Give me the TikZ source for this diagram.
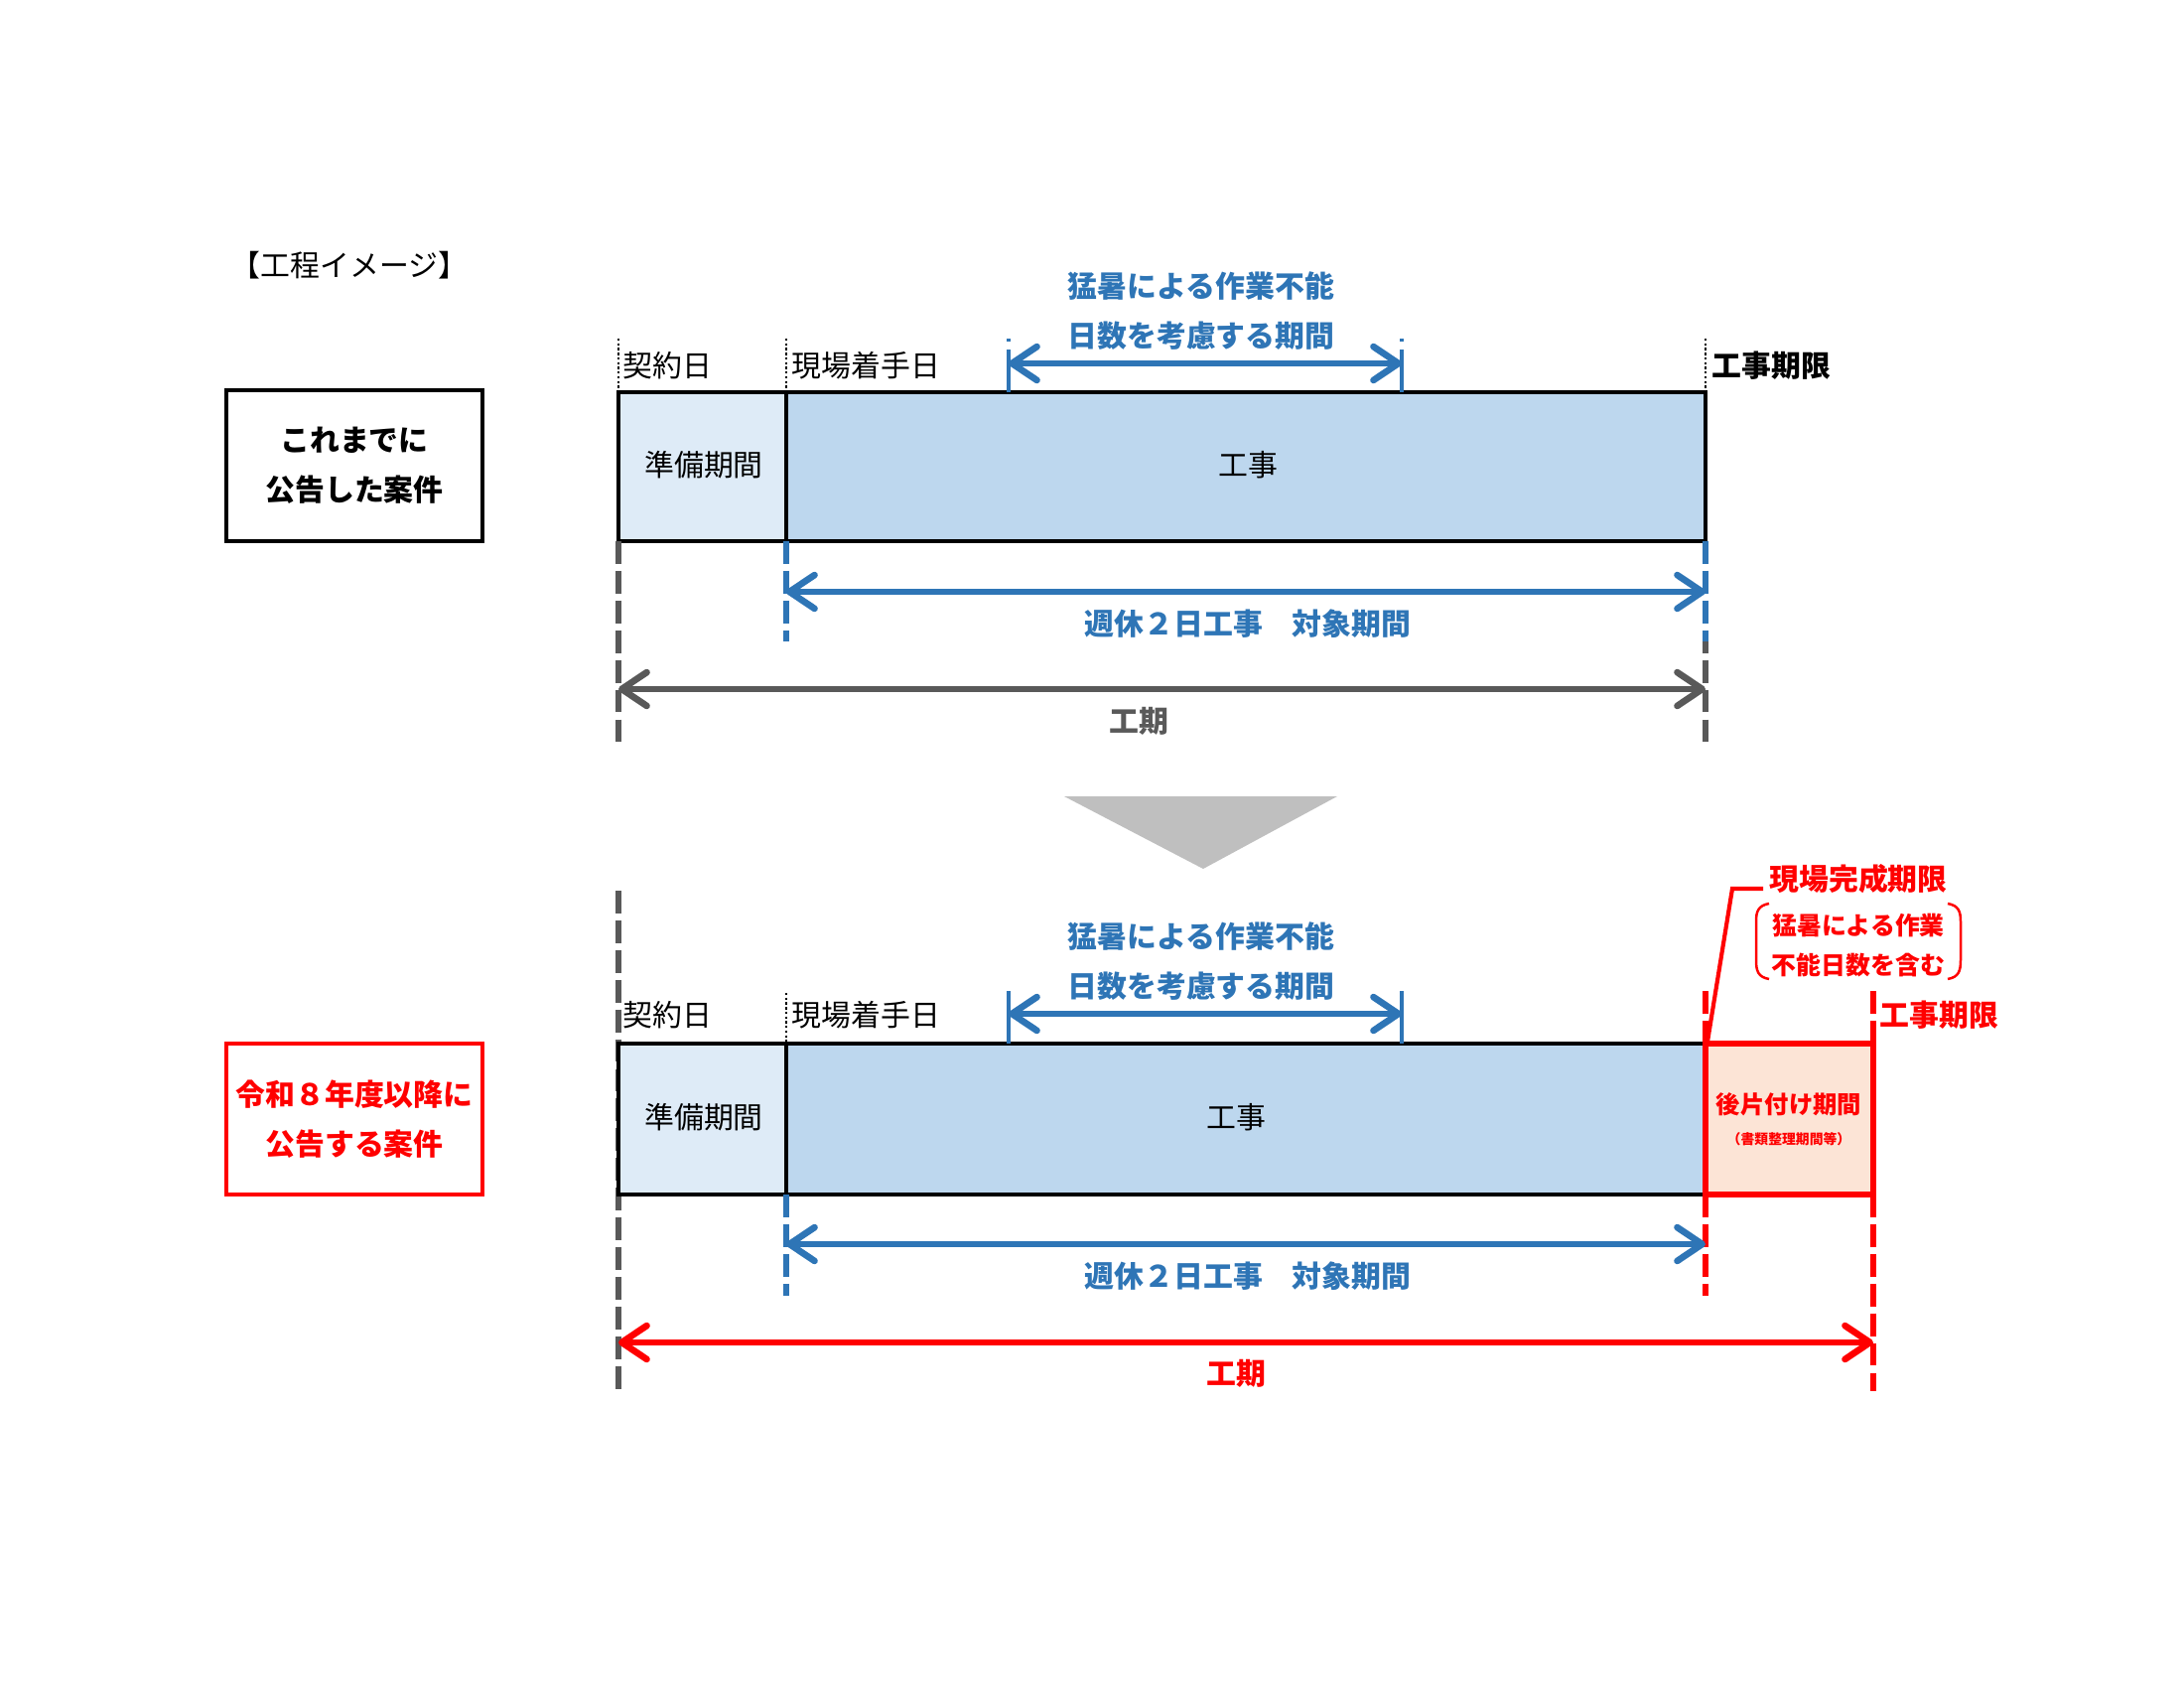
\documentclass[tikz,border=0pt]{standalone}
\usepackage{fontspec}
\usepackage{xcolor}
\usepackage{tikz}
\usetikzlibrary{arrows.meta,positioning}
\newfontfamily\jp{Noto Sans CJK JP}
\definecolor{kblue}{HTML}{2E75B6}
\definecolor{kgray}{HTML}{595959}
\definecolor{kred}{HTML}{FF0000}
\definecolor{workfill}{HTML}{BDD7EE}
\definecolor{prepfill}{HTML}{DEEBF7}
\definecolor{afterfill}{HTML}{FCE4D6}
\definecolor{trigray}{HTML}{BFBFBF}

\begin{document}
\begin{tikzpicture}
		[x=0.127mm,y=-0.127mm,>={Straight Barb[length=3.2mm,width=4.3mm,round]},
		lbl/.style={font=\jp\fontsize{10.8}{13}\selectfont,inner sep=0pt},
		bold/.style={font=\jp\bfseries\fontsize{10.8}{18}\selectfont,inner sep=0pt,align=center},
		span/.style={line width=2.4pt},
		guide/.style={line width=2pt,dash pattern=on 2.9mm off 0.9mm},
		dots/.style={line width=0.5pt,dash pattern=on 0.3mm off 0.3mm},
		barpart/.style={draw=black,line width=1.1pt}]
		\fill[white] (0,0) rectangle (2200,1700);
		\useasboundingbox (0,0) rectangle (2200,1700);

		\node[lbl] (title) at (352,267) {【工程イメージ】};

		% upper row
		\node[bold,draw=black,line width=1.2pt,minimum width=32.8mm,minimum height=19.3mm] (case1) at (357,469) {これまでに\\公告した案件};
		\draw[barpart,fill=prepfill] (623,395) rectangle (792,545);
		\draw[barpart,fill=workfill] (792,395) rectangle (1718,545);
		\node[lbl] (prep1) at (709,468) {準備期間};
		\node[lbl] (work1) at (1257,468) {工事};

		\draw[dots] (623,341) -- (623,395);
		\draw[dots] (792,341) -- (792,395);
		\draw[dots] (1718,341) -- (1718,395);
		\node[lbl,anchor=west] (kei1) at (627,368) {契約日};
		\node[lbl,anchor=west] (chaku1) at (797,368) {現場着手日};
		\node[bold,anchor=west] (kigen1) at (1724,368) {工事期限};

		\node[bold,text=kblue] (heat1) at (1210,313) {猛暑による作業不能\\日数を考慮する期間};
		\draw[kblue,line width=1.6pt,dash pattern=on 0.4mm off 1mm on 8mm] (1016,341) -- (1016,395);
		\draw[kblue,line width=1.6pt,dash pattern=on 0.4mm off 1mm on 8mm] (1412,341) -- (1412,395);
		\coordinate (h1a) at (1016,366);
		\coordinate (h1b) at (1412,366);
		\draw[<->,span,kblue] (h1a) -- (h1b);

		\draw[guide,kgray] (623,545) -- (623,747);
		\draw[guide,kgray] (1718,545) -- (1718,747);
		\draw[guide,kblue] (792,545) -- (792,646);
		\draw[guide,kblue] (1718,545) -- (1718,646);
		\coordinate (w1a) at (792,596);
		\coordinate (w1b) at (1718,596);
		\draw[<->,span,kblue] (w1a) -- (w1b);
		\node[bold,text=kblue] (week1) at (1257,628) {週休２日工事　対象期間};
		\coordinate (k1a) at (623,694);
		\coordinate (k1b) at (1718,694);
		\draw[<->,span,kgray] (k1a) -- (k1b);
		\node[bold,text=kgray] (term1) at (1147,726) {工期};

		% arrow between rows
		\fill[trigray] (1072,802) -- (1347,802) -- (1212,875) -- cycle;

		% lower row
		\node[bold,text=kred,draw=kred,line width=1.2pt,minimum width=32.8mm,minimum height=19.3mm] (case2) at (357,1127) {令和８年度以降に\\公告する案件};
		\draw[guide,kgray] (623,897) -- (623,1401);
		\draw[barpart,fill=prepfill] (623,1051) rectangle (792,1203);
		\draw[barpart,fill=workfill] (792,1051) rectangle (1718,1203);
		\node[lbl] (prep2) at (709,1125) {準備期間};
		\node[lbl] (work2) at (1245,1125) {工事};

		\draw[dots] (792,1000) -- (792,1051);
		\node[lbl,anchor=west] (kei2) at (627,1022) {契約日};
		\node[lbl,anchor=west] (chaku2) at (797,1022) {現場着手日};

		\node[bold,text=kblue] (heat2) at (1210,968) {猛暑による作業不能\\日数を考慮する期間};
		\draw[kblue,line width=1.6pt] (1016,998) -- (1016,1051);
		\draw[kblue,line width=1.6pt] (1412,998) -- (1412,1051);
		\coordinate (h2a) at (1016,1021);
		\coordinate (h2b) at (1412,1021);
		\draw[<->,span,kblue] (h2a) -- (h2b);

		% clean-up period
		\draw[guide,kred] (1718,998) -- (1718,1051);
		\draw[guide,kred] (1887,998) -- (1887,1051);
		\draw[kred,line width=2.2pt,fill=afterfill] (1718,1051) rectangle (1887,1203);
		\node[font=\jp\bfseries\fontsize{8.8}{10}\selectfont,text=kred,inner sep=0pt] (after) at (1802,1112) {後片付け期間};
		\node[font=\jp\bfseries\fontsize{5}{6}\selectfont,text=kred,inner sep=0pt] (aftersub) at (1802,1147) {（書類整理期間等）};
		\node[bold,text=kred,anchor=west] (kigen2) at (1893,1022) {工事期限};
		\node[bold,text=kred] (site) at (1872,885) {現場完成期限};
		\node[font=\jp\bfseries\fontsize{9}{14.4}\selectfont,text=kred,inner sep=0pt,align=center] (incl) at (1872,952) {猛暑による作業\\不能日数を含む};
		\draw[kred,line width=0.9pt] (1782,910) .. controls (1771,912) and (1769,918) .. (1769,928) -- (1769,967) .. controls (1769,978) and (1771,984) .. (1782,986);
		\draw[kred,line width=0.9pt] (1962,910) .. controls (1973,912) and (1975,918) .. (1975,928) -- (1975,967) .. controls (1975,978) and (1973,984) .. (1962,986);
		\coordinate (lead) at (1745,895);
		\draw[kred,line width=1.5pt] (1720,1049) -- (lead) -- (1776,895);

		\draw[guide,kblue] (792,1203) -- (792,1305);
		\draw[guide,kred] (1718,1203) -- (1718,1305);
		\draw[guide,kred] (1887,1203) -- (1887,1401);
		\coordinate (w2a) at (792,1253);
		\coordinate (w2b) at (1718,1253);
		\draw[<->,span,kblue] (w2a) -- (w2b);
		\node[bold,text=kblue] (week2) at (1257,1285) {週休２日工事　対象期間};
		\coordinate (k2a) at (623,1352);
		\coordinate (k2b) at (1887,1352);
		\draw[<->,span,kred] (k2a) -- (k2b);
		\node[bold,text=kred] (term2) at (1245,1383) {工期};
\end{tikzpicture}
\end{document}
